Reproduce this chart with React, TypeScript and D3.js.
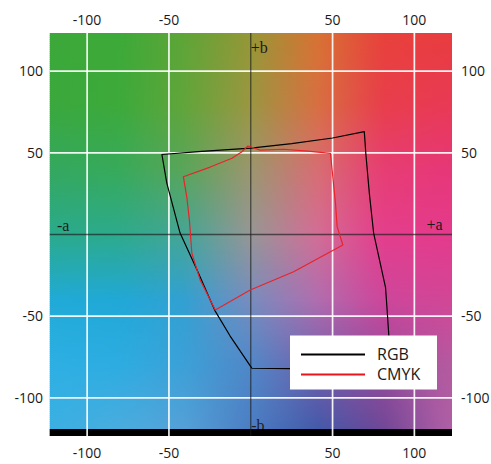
import React from "react";
import * as d3 from "d3";

const W = 491;
const H = 464;

// grid ticks and their labels
const tickValues = [-100, -50, 50, 100];
const tickLabels = ["-100", "-50", "50", "100"];

// background colour control grid (a* across, b* down)
const bgANodes = [-120, -80, -40, 0, 40, 80, 120];
const bgBNodes = [120, 80, 40, 0, -40, -80, -120];
const bgRowB120 = ["#3ca83a", "#3caa38", "#5fa537", "#969637", "#d77334", "#e8413c", "#e83c41"];
const bgRowB80 = ["#3aa83c", "#3caa3a", "#62a53a", "#9b9641", "#d77041", "#e83e4b", "#e83a55"];
const bgRowB40 = ["#34a85f", "#37aa5a", "#5aa55a", "#9b966e", "#d76e73", "#e63e73", "#e63778"];
const bgRowB0 = ["#2aaa8c", "#2daa8c", "#46a596", "#969696", "#d26e96", "#e43e8c", "#e43a8c"];
const bgRowBm40 = ["#20aad7", "#20a8d7", "#32a0d2", "#788cbe", "#af6eaf", "#cd469b", "#d24696"];
const bgRowBm80 = ["#2dafe4", "#2dace1", "#3ca0d7", "#5087c8", "#735faa", "#964b9b", "#b45aa0"];
const bgRowBm120 = ["#3cafe1", "#4bacde", "#55a0d7", "#4b7dc3", "#415aaa", "#6e4696", "#af5fa5"];
const bgRows = [bgRowB120, bgRowB80, bgRowB40, bgRowB0, bgRowBm40, bgRowBm80, bgRowBm120];

// gamut outlines, [a*, b*]
const rgbGamut: [number, number][] = [
  [-54.3, 49.0], [-30, 50.9], [0, 52.9], [25, 55.6], [50, 59.1], [69.4, 63.0],
  [70.3, 49.9], [72.5, 25], [75.1, 0.9], [82.4, -32.6], [83.6, -49.9], [84.4, -62.2],
  [85.0, -82.8], [24.2, -82.2], [0.7, -81.9], [-0.3, -80.5], [-12.6, -62.2],
  [-21.8, -46.8], [-33.0, -21.3], [-43.2, 0.9], [-51.3, 31.5],
];
const cmykGamut: [number, number][] = [
  [-1.7, 54.2], [5.8, 51.7], [20, 52.2], [35, 51.0], [48.7, 49.7], [51.8, 19.1],
  [52.8, 4.8], [56.3, -6.4], [26.2, -22.8], [-0.3, -34.0], [-21.7, -46.2],
  [-30.9, -27.9], [-36.0, -11.5], [-37.5, 8.9], [-39.1, 23.1], [-41.2, 35.4],
  [-24.8, 41.3], [-11.5, 46.7], [-5.4, 50.7],
];

const legendNames = ["RGB", "CMYK"];
const legendColors = ["#000000", "#e8141e"];

const parsed = bgRows.map((r) => r.map((c) => d3.rgb(c)));

function bgColor(a: number, b: number): string {
  const ca = Math.max(bgANodes[0], Math.min(bgANodes[6], a));
  const cb = Math.max(bgBNodes[6], Math.min(bgBNodes[0], b));
  const fa = (ca - bgANodes[0]) / 40;
  const i = Math.min(5, Math.floor(fa));
  const ta = fa - i;
  const fb = (bgBNodes[0] - cb) / 40;
  const j = Math.min(5, Math.floor(fb));
  const tb = fb - j;
  const c00 = parsed[j][i], c01 = parsed[j][i + 1], c10 = parsed[j + 1][i], c11 = parsed[j + 1][i + 1];
  const mix = (k: "r" | "g" | "b") =>
    (c00[k] * (1 - ta) + c01[k] * ta) * (1 - tb) + (c10[k] * (1 - ta) + c11[k] * ta) * tb;
  return d3.rgb(mix("r"), mix("g"), mix("b")).formatHex();
}

export default function App() {
  const x = d3.scaleLinear().domain([-123, 123]).range([49.5, 452]);
  const y = d3.scaleLinear().domain([-123.4, 123.4]).range([436, 33]);
  const [x0, x1] = x.range();
  const [yb, yt] = y.range();

  const rowStep = 2;
  const rows = d3.range(yt, yb, rowStep);
  const nStops = 31;
  const aDom = x.domain();

  const line = d3
    .line<[number, number]>()
    .x((d) => x(d[0]))
    .y((d) => y(d[1]))
    .curve(d3.curveLinearClosed);

  const tickFont = "'Open Sans', sans-serif";
  const serif = "'Liberation Serif', 'Times New Roman', serif";

  return (
    <svg
      width={W}
      height={H}
      style={{ position: "absolute", left: 0, top: 0, background: "#fff" }}
    >
      <defs>
        {rows.map((ry, k) => {
          const b = y.invert(ry + rowStep / 2);
          return (
            <linearGradient
              key={k}
              id={`row${k}`}
              gradientUnits="userSpaceOnUse"
              x1={x0}
              x2={x1}
              y1={0}
              y2={0}
            >
              {d3.range(nStops).map((s) => {
                const t = s / (nStops - 1);
                const a = aDom[0] + t * (aDom[1] - aDom[0]);
                return <stop key={s} offset={t} stopColor={bgColor(a, b)} />;
              })}
            </linearGradient>
          );
        })}
        <clipPath id="plotClip">
          <rect x={x0} y={yt} width={x1 - x0} height={yb - yt} />
        </clipPath>
      </defs>

      <g clipPath="url(#plotClip)">
        {rows.map((ry, k) => (
          <rect
            key={k}
            x={x0}
            y={ry}
            width={x1 - x0}
            height={rowStep + 0.6}
            fill={`url(#row${k})`}
          />
        ))}

        {/* -b label (partly hidden by the bottom bar) */}
        <text x={x(0) + 0.5} y={431} fontFamily={serif} fontSize={16} fill="#222">
          -b
        </text>

        {/* bottom black bar */}
        <rect x={x0} y={429} width={x1 - x0} height={yb - 429} fill="#000" />

        {/* white grid */}
        {tickValues.map((v) => (
          <line
            key={`vx${v}`}
            x1={x(v)}
            x2={x(v)}
            y1={yt}
            y2={yb}
            stroke="#fff"
            strokeOpacity={0.92}
            strokeWidth={1.7}
          />
        ))}
        {tickValues.map((v) => (
          <line
            key={`hy${v}`}
            x1={x0}
            x2={x1}
            y1={y(v)}
            y2={y(v)}
            stroke="#fff"
            strokeOpacity={0.92}
            strokeWidth={1.7}
          />
        ))}

        {/* a and b axes */}
        <line x1={x(0)} x2={x(0)} y1={yt} y2={yb} stroke="#1a1a1a" strokeOpacity={0.65} strokeWidth={1.3} />
        <line x1={x0} x2={x1} y1={y(0)} y2={y(0)} stroke="#1a1a1a" strokeOpacity={0.65} strokeWidth={1.3} />

        <text x={x(0)} y={52.5} fontFamily={serif} fontSize={16} fill="#1a1a1a">
          +b
        </text>
        <text x={57} y={230.5} fontFamily={serif} fontSize={16} fill="#1a1a1a">
          -a
        </text>
        <text x={426.5} y={230} fontFamily={serif} fontSize={16} fill="#1a1a1a">
          +a
        </text>

        {/* gamut outlines */}
        <path d={line(rgbGamut) || ""} fill="none" stroke="#000" strokeWidth={1.2} strokeLinejoin="round" />
        <path d={line(cmykGamut) || ""} fill="none" stroke="#e8242a" strokeWidth={1.2} strokeLinejoin="round" />

        {/* legend */}
        <g>
          <rect x={290} y={335.5} width={147} height={54} fill="#fff" />
          {legendNames.map((n, i) => (
            <g key={n}>
              <line
                x1={301}
                x2={365}
                y1={354.5 + i * 20}
                y2={354.5 + i * 20}
                stroke={legendColors[i]}
                strokeWidth={2.2}
              />
              <text
                x={377}
                y={359.5 + i * 20}
                fontFamily={tickFont}
                fontSize={16}
                fill="#1a1a1a"
              >
                {n}
              </text>
            </g>
          ))}
        </g>
      </g>

      {/* tick labels */}
      {tickValues.map((v, i) => (
        <g key={`tl${v}`} fontFamily={tickFont} fontSize={14} fill="#1a1a1a">
          <text x={x(v)} y={25} textAnchor="middle">
            {tickLabels[i]}
          </text>
          <text x={x(v)} y={458} textAnchor="middle">
            {tickLabels[i]}
          </text>
          <text x={43} y={y(v) + 5} textAnchor="end">
            {tickLabels[i]}
          </text>
          <text x={461} y={y(v) + 5} textAnchor="start">
            {tickLabels[i]}
          </text>
        </g>
      ))}
    </svg>
  );
}
